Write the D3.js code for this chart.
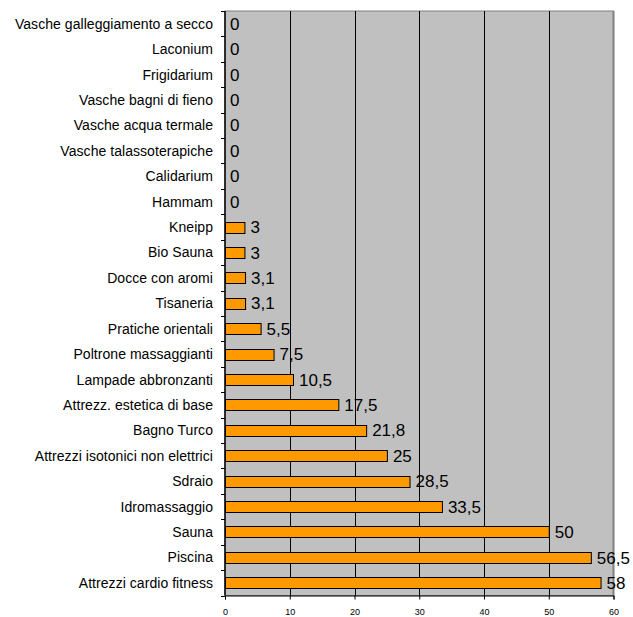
<!DOCTYPE html>
<html>
<head>
<meta charset="utf-8">
<script src="https://cdn.jsdelivr.net/npm/d3@7/dist/d3.min.js"></script>
<style>
  body { margin: 0; background: #fff; }
  svg { display: block; font-family: "Liberation Sans", Arial, sans-serif; }
</style>
</head>
<body>
<div id="chart"></div>
<script>
(function () {
  'use strict';

  var categories = [
    'Vasche galleggiamento a secco', 'Laconium', 'Frigidarium', 'Vasche bagni di fieno',
    'Vasche acqua termale', 'Vasche talassoterapiche', 'Calidarium', 'Hammam',
    'Kneipp', 'Bio Sauna', 'Docce con aromi', 'Tisaneria', 'Pratiche orientali',
    'Poltrone massaggianti', 'Lampade abbronzanti', 'Attrezz. estetica di base',
    'Bagno Turco', 'Attrezzi isotonici non elettrici', 'Sdraio', 'Idromassaggio',
    'Sauna', 'Piscina', 'Attrezzi cardio fitness'
  ];
  var values = [0, 0, 0, 0, 0, 0, 0, 0, 3, 3, 3.1, 3.1, 5.5, 7.5, 10.5, 17.5,
                21.8, 25, 28.5, 33.5, 50, 56.5, 58];
  var xTicks = [0, 10, 20, 30, 40, 50, 60];

  var WIDTH = 633, HEIGHT = 617,
      left = 225, right = 613.5, top = 11, bottom = 595.5;

  var svg = d3.select('#chart').append('svg')
      .attr('width', WIDTH).attr('height', HEIGHT);

  var x = d3.scaleLinear().domain([0, 60]).range([left, right]);
  var y = d3.scaleBand().domain(categories).range([top, bottom]);
  var barH = 11;

  // plot area background
  svg.append('rect')
    .attr('x', left).attr('y', top)
    .attr('width', right - left).attr('height', bottom - top)
    .attr('fill', '#c0c0c0')
    .attr('stroke', '#808080').attr('stroke-width', 1);

  svg.append('line')
    .attr('x1', right).attr('x2', right)
    .attr('y1', top).attr('y2', bottom)
    .attr('stroke', '#808080').attr('stroke-width', 2);

  // vertical gridlines
  svg.selectAll('line.grid')
    .data(xTicks.slice(1, -1))
    .enter().append('line')
    .attr('class', 'grid')
    .attr('x1', function (d) { return Math.round(x(d)) + 0.5; })
    .attr('x2', function (d) { return Math.round(x(d)) + 0.5; })
    .attr('y1', top).attr('y2', bottom)
    .attr('stroke', '#000').attr('stroke-width', 1);

  // bars
  svg.selectAll('rect.bar')
    .data(values.map(function (v, i) { return { name: categories[i], value: v }; }))
    .enter().append('rect')
    .attr('class', 'bar')
    .filter(function (d) { return d.value > 0; })
    .attr('x', x(0) + 0.5)
    .attr('y', function (d) { return Math.round(y(d.name) + y.bandwidth() / 2 - barH / 2) + 0.5; })
    .attr('width', function (d) { return x(d.value) - x(0); })
    .attr('height', barH)
    .attr('fill', '#ff9900')
    .attr('stroke', '#000').attr('stroke-width', 1);

  // value labels
  svg.selectAll('text.value')
    .data(values)
    .enter().append('text')
    .attr('class', 'value')
    .attr('x', function (d) { return x(d) + (d > 0 ? 6 : 5); })
    .attr('y', function (d, i) { return y(categories[i]) + y.bandwidth() / 2; })
    .attr('dy', '0.36em')
    .attr('font-size', '17px')
    .attr('fill', '#000')
    .text(function (d) { return String(d).replace('.', ','); });

  // category axis (ticks on band boundaries)
  var bounds = categories.map(function (c) { return y(c); }).concat([bottom]);
  svg.selectAll('line.ytick')
    .data(bounds)
    .enter().append('line')
    .attr('class', 'ytick')
    .attr('x1', left - 4).attr('x2', left)
    .attr('y1', function (d) { return Math.round(d) + 0.5; })
    .attr('y2', function (d) { return Math.round(d) + 0.5; })
    .attr('stroke', '#000');

  svg.append('line')
    .attr('x1', left).attr('x2', left)
    .attr('y1', top).attr('y2', bottom)
    .attr('stroke', '#000').attr('stroke-width', 1.5);

  svg.selectAll('text.cat')
    .data(categories)
    .enter().append('text')
    .attr('class', 'cat')
    .attr('x', left - 12)
    .attr('y', function (d) { return y(d) + y.bandwidth() / 2; })
    .attr('dy', '0.36em')
    .attr('text-anchor', 'end')
    .attr('font-size', '14px')
    .attr('letter-spacing', '0.05px')
    .attr('fill', '#000')
    .text(function (d) { return d; });

  // value axis
  var xAxis = d3.axisBottom(x)
      .tickValues(xTicks)
      .tickSize(4)
      .tickPadding(9)
      .tickFormat(d3.format('d'));

  var gx = svg.append('g')
    .attr('transform', 'translate(0,' + bottom + ')')
    .call(xAxis);
  gx.select('.domain').attr('stroke', '#000');
  gx.selectAll('text')
    .attr('font-size', '9px')
    .attr('font-family', '"Liberation Sans", Arial, sans-serif')
    .attr('fill', '#000');
}());
</script>
</body>
</html>
